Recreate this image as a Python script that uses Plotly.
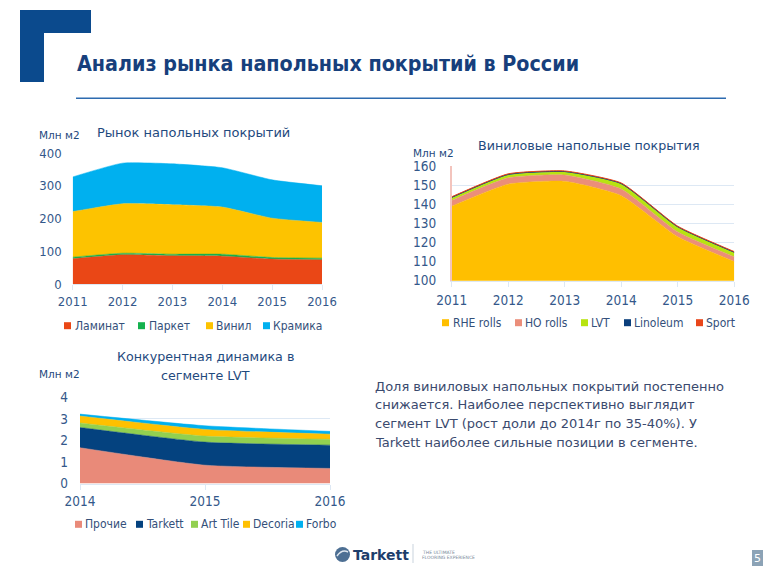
import plotly.graph_objects as go

# ---------------- DATA ----------------
years_market = [2011, 2012, 2013, 2014, 2015, 2016]
laminate = [77, 89, 86, 85, 76, 74]
parquet = [5, 5, 5, 6, 5, 5]
vinyl = [139, 151, 151, 144, 120, 109]
ceramics = [106, 124, 125, 120, 117, 112]
market_names = ["Ламинат", "Паркет", "Винил", "Крамика"]

years_vinyl = [2011, 2012, 2013, 2014, 2015, 2016]
rhe_rolls = [139, 150.5, 152, 144.5, 123, 110]
ho_rolls = [3, 3.3, 3.3, 3.5, 2.5, 2.5]
lvt = [1.3, 1.5, 1.5, 2.5, 2.4, 2.1]
linoleum = [0.3, 0.3, 0.3, 0.3, 0.3, 0.3]
sport = [0.3, 0.3, 0.3, 0.3, 0.3, 0.3]
vinyl_names = ["RHE rolls", "HO rolls", "LVT", "Linoleum", "Sport"]

years_lvt = [2014, 2015, 2016]
others = [1.66, 0.85, 0.70]
tarkett = [0.94, 1.07, 1.08]
art_tile = [0.21, 0.28, 0.27]
decoria = [0.32, 0.31, 0.24]
forbo = [0.09, 0.17, 0.13]
lvt_names = ["Прочие", "Tarkett", "Art Tile", "Decoria", "Forbo"]

market_ticks = [0, 100, 200, 300, 400]
vinyl_ticks = [100, 110, 120, 130, 140, 150, 160]
lvt_ticks = [0, 1, 2, 3, 4]

slide_title = "Анализ рынка напольных покрытий в России"
chart1_title = "Рынок напольных покрытий"
chart2_title = "Виниловые напольные покрытия"
chart3_title = ["Конкурентная динамика в", "сегменте LVT"]
unit_label = "Млн м2"
paragraph = [
    "Доля виниловых напольных покрытий постепенно",
    "снижается. Наиболее перспективно выглядит",
    "сегмент LVT (рост доли до 2014г по 35-40%). У",
    "Tarkett наиболее сильные позиции в сегменте.",
]

# ---------------- STYLE ----------------
W, H = 763, 566
FONT = "DejaVu Sans"
CFONT = "DejaVu Sans Condensed"
TITLE_C = "#1f4a7e"
TICK_C = "#34588a"
LEG_C = "#34507a"
GRID_C = "#dde8f4"

market_colors = ["#ea4716", "#14b14e", "#fdc300", "#00b0ef"]
vinyl_colors = ["#ffbf00", "#eb8e7a", "#b8e410", "#0b3f7c", "#e9461a"]
lvt_colors = ["#e98a79", "#04427f", "#92d050", "#ffc000", "#00b0f0"]


def px(x):
    return x / W


def py(y):
    return 1 - y / H


fig = go.Figure()


def add_stack(xs, series, colors, names, xa, ya, group, widths=None):
    for i, (vals, col, nm) in enumerate(zip(series, colors, names)):
        lw = widths[i] if widths else 0.5
        fig.add_trace(go.Scatter(
            x=xs, y=vals, name=nm, stackgroup=group, mode="lines",
            line=dict(width=lw, color=col, shape="spline", smoothing=0.5),
            fillcolor=col, xaxis=xa, yaxis=ya, showlegend=False,
            hoverinfo="x+y+name"))


add_stack(years_market, [laminate, parquet, vinyl, ceramics], market_colors,
          market_names, "x", "y", "m")
add_stack(years_vinyl, [rhe_rolls, ho_rolls, lvt, linoleum, sport], vinyl_colors,
          vinyl_names, "x2", "y2", "v", widths=[0.5, 0.5, 0.5, 1.0, 1.0])
add_stack(years_lvt, [others, tarkett, art_tile, decoria, forbo], lvt_colors,
          lvt_names, "x3", "y3", "l")


def xax(dom, rng, tick_vals, size, standoff, anchor):
    return dict(domain=dom, range=rng, tickvals=tick_vals, showgrid=False,
                zeroline=False, showline=True, linecolor=GRID_C, linewidth=1,
                ticks="outside", ticklen=5, tickcolor=GRID_C, anchor=anchor,
                tickfont=dict(family=CFONT, size=size, color=TICK_C),
                ticklabelstandoff=standoff, fixedrange=True, automargin=False)


def yax(dom, rng, tick_vals, size, anchor, standoff, linecolor=None):
    d = dict(domain=dom, range=rng, tickvals=tick_vals, showgrid=True,
             gridcolor=GRID_C, gridwidth=1, zeroline=False,
             tickfont=dict(family=CFONT, size=size, color=TICK_C),
             anchor=anchor, ticklabelstandoff=standoff, fixedrange=True,
             automargin=False)
    if linecolor:
        d.update(showline=True, linecolor=linecolor, linewidth=1.5)
    return d


fig.update_layout(
    xaxis=xax([px(72.7), px(322)], [2011, 2016], years_market, 13, 0, "y"),
    yaxis=yax([py(284), py(153)], [0, 400], market_ticks, 13, "x", 10),
    xaxis2=xax([px(451.7), px(734.3)], [2011, 2016], years_vinyl, 13.5, 2, "y2"),
    yaxis2=yax([py(280.7), py(166)], [100, 160], vinyl_ticks, 13.5, "x2", 11,
               linecolor="#f3c4bd"),
    xaxis3=xax([px(80), px(330)], [2014, 2016], years_lvt, 13.5, 0, "y3"),
    yaxis3=yax([py(483.5), py(397.3)], [0, 4], lvt_ticks, 13.5, "x3", 11),
)

shapes = []
ann = []


def text(x, y, s, size, color, anchor="left", family=FONT):
    ann.append(dict(x=px(x), y=py(y), xref="paper", yref="paper", text=s,
                    showarrow=False, xanchor=anchor, yanchor="middle",
                    font=dict(family=family, size=size, color=color)))


# blue corner decoration
shapes.append(dict(type="path", xref="paper", yref="paper",
                   path=f"M {px(20)},{py(10)} L {px(91)},{py(10)} L {px(91)},{py(33)} "
                        f"L {px(44)},{py(33)} L {px(44)},{py(82)} L {px(20)},{py(82)} Z",
                   fillcolor="#0b4a8d", line=dict(width=0)))
# slide title and rule
text(75, 63.5, "<b>" + slide_title + "</b>", 21.3, "#173f7c", family=CFONT)
shapes.append(dict(type="line", xref="paper", yref="paper", x0=px(76), x1=px(726),
                   y0=py(98.3), y1=py(98.3), line=dict(color="#2d6bb0", width=1.5)))

# chart titles and units
text(95, 132, chart1_title, 13, TITLE_C)
text(37, 135, unit_label, 10.5, TITLE_C)
text(476, 145, chart2_title, 12.7, TITLE_C)
text(411, 152.7, unit_label, 10.5, TITLE_C)
text(205.5, 356.7, chart3_title[0], 12.7, TITLE_C, anchor="center")
text(205.5, 375, chart3_title[1], 12.7, TITLE_C, anchor="center")
text(37, 374, unit_label, 10.5, TITLE_C)


# legends (squares + labels)
def legend(items, colors, sq_x, txt_x, yc):
    for nm, col, sx, tx in zip(items, colors, sq_x, txt_x):
        shapes.append(dict(type="rect", xref="paper", yref="paper",
                           x0=px(sx), x1=px(sx + 7), y0=py(yc - 3.5), y1=py(yc + 3.5),
                           fillcolor=col, line=dict(width=0)))
        text(tx, yc, nm, 12, LEG_C, family=CFONT)


legend(market_names, market_colors, [64, 138, 206, 263], [73, 147, 214, 271], 325.7)
legend(vinyl_names, vinyl_colors, [442, 515, 581, 624, 696], [451, 523, 589, 632, 704], 322.7)
legend(lvt_names, lvt_colors, [75, 136, 191, 243, 296], [83, 144, 199, 251, 304], 524.3)

# paragraph
for i, line in enumerate(paragraph):
    text(373, 386 + i * 18.8, line, 13, "#3a4a6e")

# footer logo
shapes.append(dict(type="circle", xref="paper", yref="paper",
                   x0=px(335), x1=px(350), y0=py(562), y1=py(547),
                   fillcolor="#4d6f93", line=dict(width=0)))
shapes.append(dict(type="path", xref="paper", yref="paper",
                   path=f"M {px(337)},{py(556)} Q {px(342)},{py(549)} {px(348)},{py(552)}",
                   line=dict(color="#dfe7ef", width=1.5)))
text(351, 554.5, "<b>Tarkett</b>", 14, "#1d3d6b")
shapes.append(dict(type="line", xref="paper", yref="paper", x0=px(413), x1=px(413),
                   y0=py(544), y1=py(563), line=dict(color="#c9d3dd", width=1)))
text(420, 552.5, "THE ULTIMATE", 4.5, "#7a8a9a")
text(420, 557, "FLOORING EXPERIENCE", 4.5, "#7a8a9a")
# page number box
shapes.append(dict(type="rect", xref="paper", yref="paper", x0=px(752), x1=px(763),
                   y0=py(566), y1=py(550), fillcolor="#8ca3b6", line=dict(width=0)))
text(757.5, 558, "5", 11, "#ffffff", anchor="center")

fig.update_layout(
    width=W, height=H, autosize=False,
    margin=dict(l=0, r=0, t=0, b=0, pad=0, autoexpand=False),
    paper_bgcolor="white", plot_bgcolor="rgba(0,0,0,0)",
    showlegend=False, shapes=shapes, annotations=ann,
    font=dict(family=FONT),
)

fig.write_html("out.html", config={"displayModeBar": False},
               post_script="document.body.style.margin='0';")
